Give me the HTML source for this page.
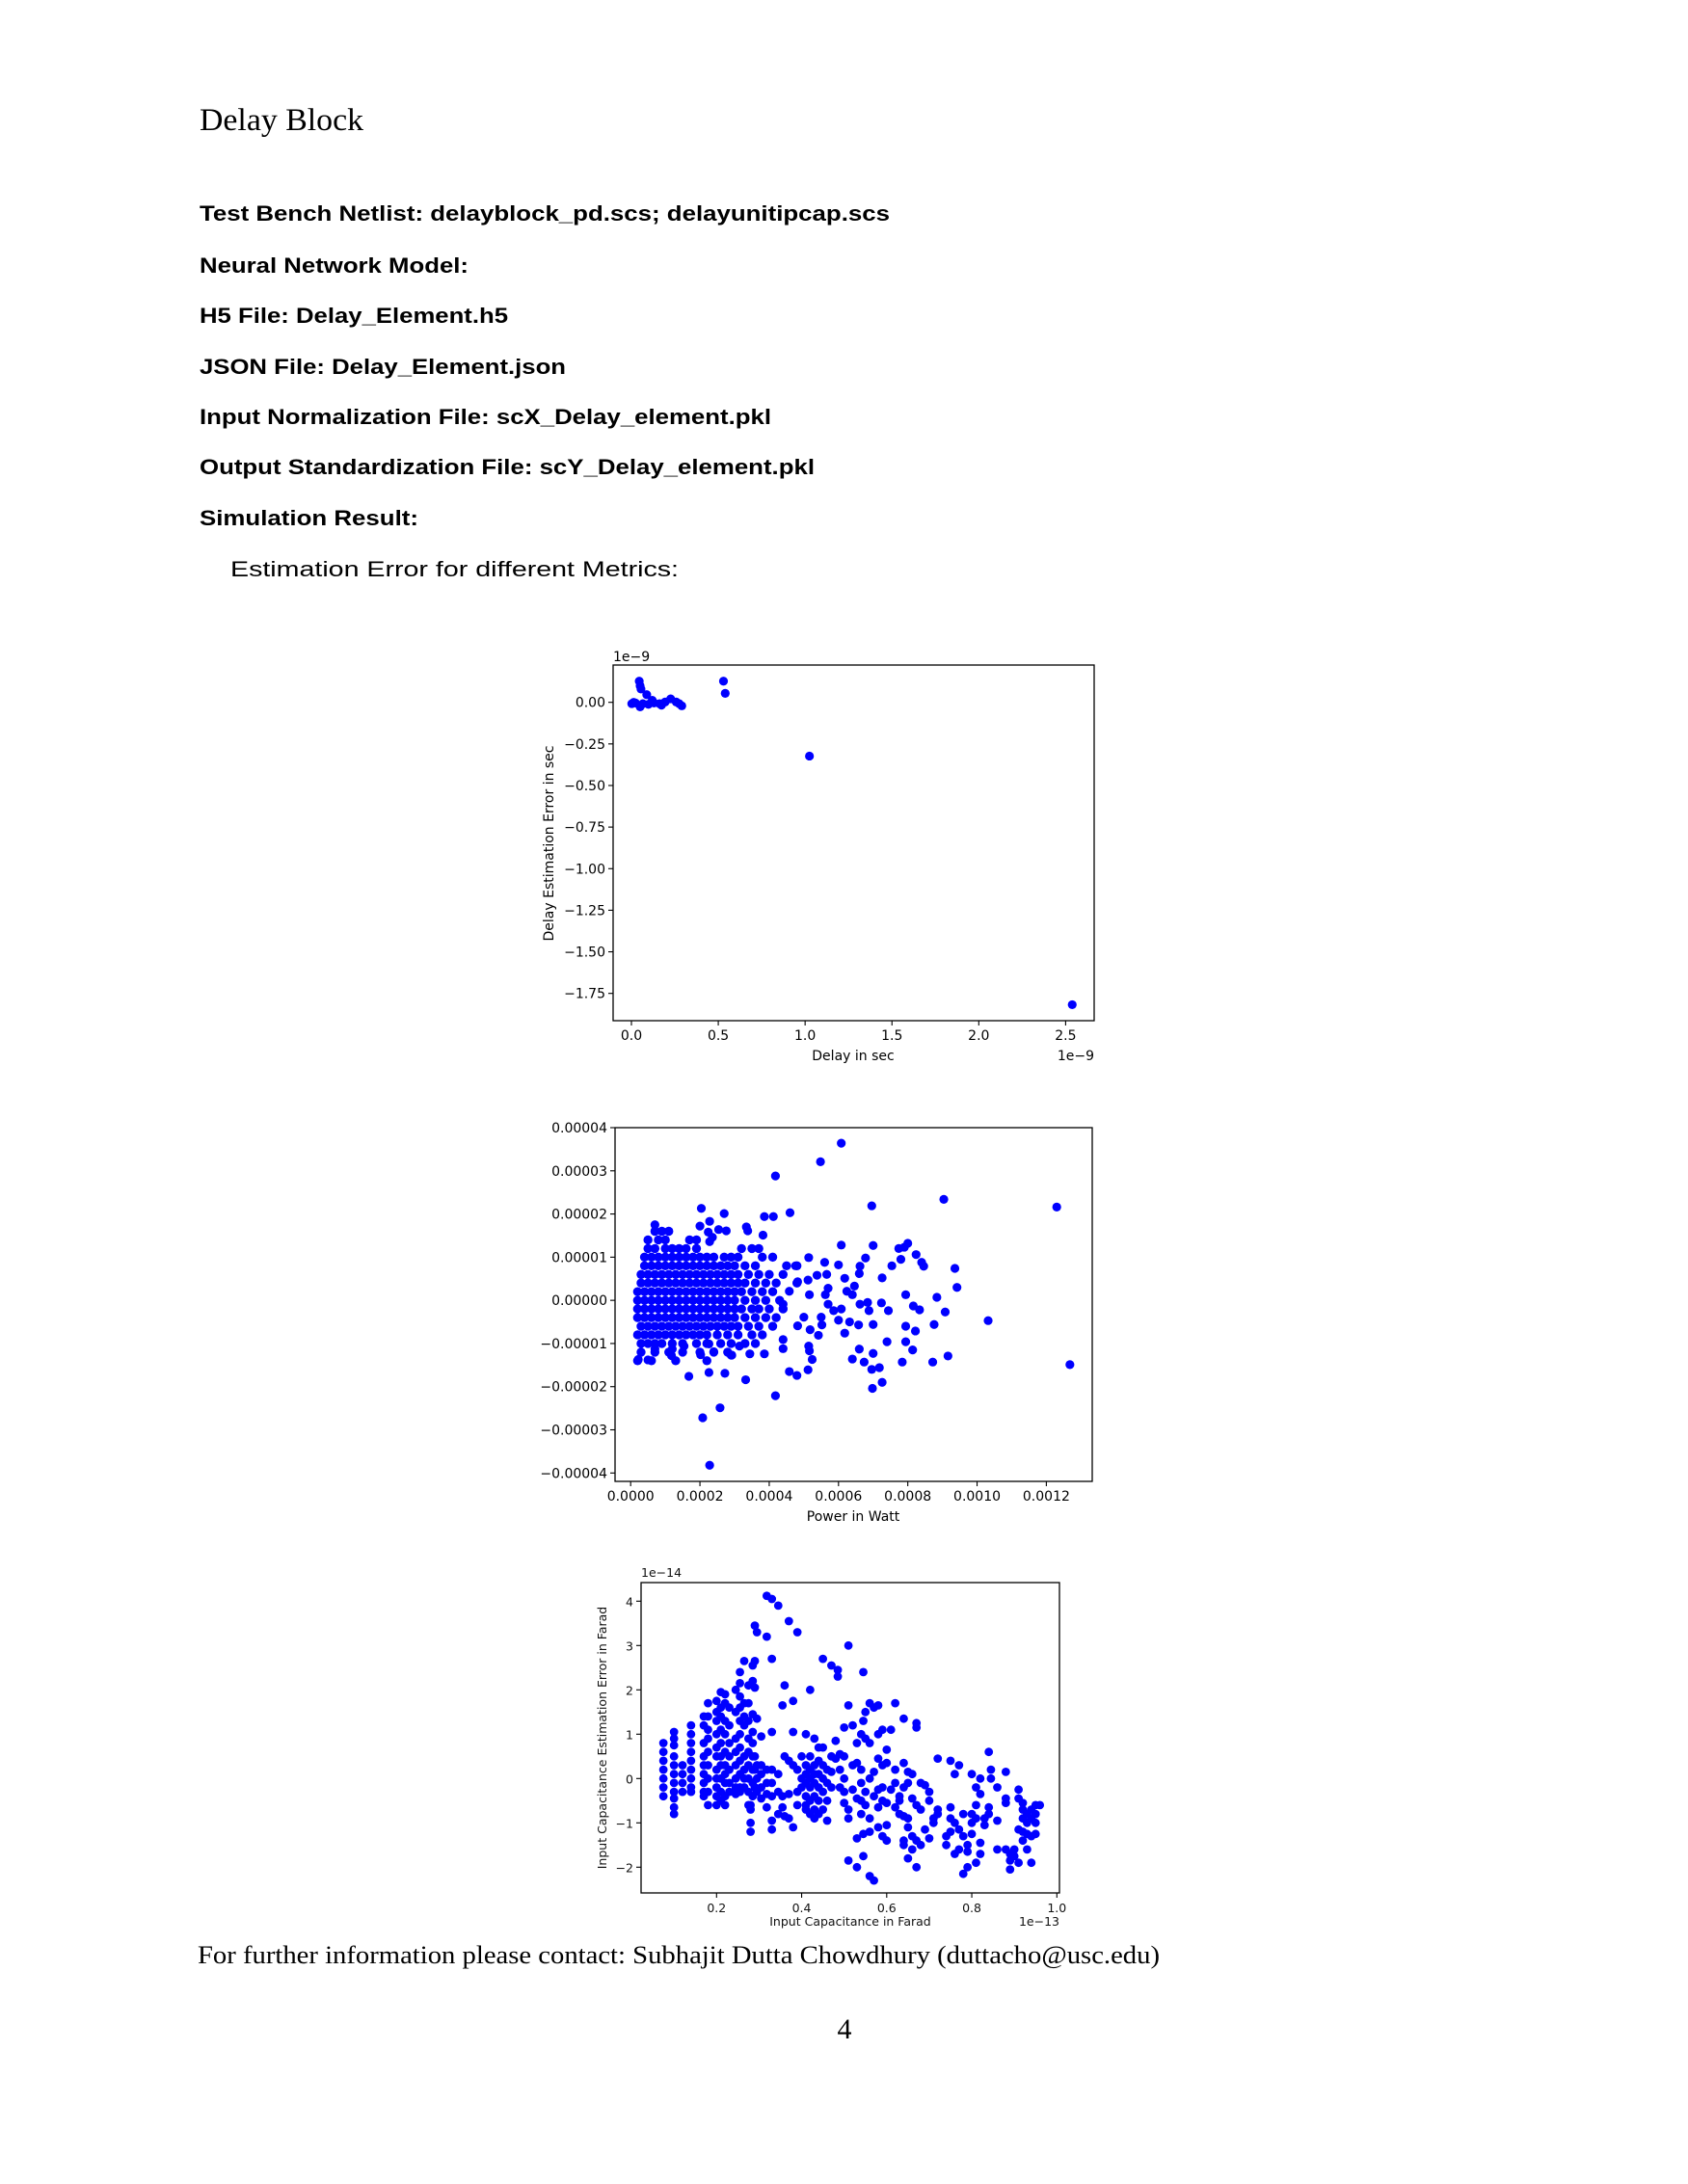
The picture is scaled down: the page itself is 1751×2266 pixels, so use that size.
<!DOCTYPE html>
<html><head><meta charset="utf-8"><style>
html,body{margin:0;padding:0;background:#fff;}
svg{display:block;}
.b{font-family:"Liberation Sans",sans-serif;font-weight:bold;font-size:22px;fill:#000;}
.s{font-family:"Liberation Serif",serif;fill:#000;}
.t{font-family:"DejaVu Sans",sans-serif;font-size:14px;fill:#000;}
.t3{font-family:"DejaVu Sans",sans-serif;font-size:12.5px;fill:#111;}
</style></head><body>
<svg id="pg" width="1751" height="2266" viewBox="0 0 1751 2266" xmlns="http://www.w3.org/2000/svg">
<rect width="1751" height="2266" fill="#fff"/>
<text class="s" x="207" y="135" font-size="33" textLength="170" lengthAdjust="spacingAndGlyphs">Delay Block</text>
<text class="b" x="207" y="229" textLength="716" lengthAdjust="spacingAndGlyphs">Test Bench Netlist: delayblock_pd.scs; delayunitipcap.scs</text>
<text class="b" x="207" y="283" textLength="279" lengthAdjust="spacingAndGlyphs">Neural Network Model:</text>
<text class="b" x="207" y="335" textLength="320" lengthAdjust="spacingAndGlyphs">H5 File: Delay_Element.h5</text>
<text class="b" x="207" y="388" textLength="380" lengthAdjust="spacingAndGlyphs">JSON File: Delay_Element.json</text>
<text class="b" x="207" y="440" textLength="593" lengthAdjust="spacingAndGlyphs">Input Normalization File: scX_Delay_element.pkl</text>
<text class="b" x="207" y="492" textLength="638" lengthAdjust="spacingAndGlyphs">Output Standardization File: scY_Delay_element.pkl</text>
<text class="b" x="207" y="545" textLength="227" lengthAdjust="spacingAndGlyphs">Simulation Result:</text>
<text x="239" y="598" font-family="Liberation Sans, sans-serif" font-size="22" textLength="465" lengthAdjust="spacingAndGlyphs">Estimation Error for different Metrics:</text>
<text class="s" x="205" y="2037" font-size="26" textLength="998" lengthAdjust="spacingAndGlyphs">For further information please contact: Subhajit Dutta Chowdhury (duttacho@usc.edu)</text>
<text class="s" x="876" y="2115" font-size="30" text-anchor="middle">4</text>
<g id="c1"></g>
<g id="c2"></g>
<g id="c3"></g>
</svg>
<script>
// ---- Chart 1 data (units 1e-9 s) ----
const delayX = [0.013,0.045,0.05,0.055,0.088,0.023,0.066,0.098,0.13,0.162,0.194,0.226,0.258,0.29,0.05,0.002,0.12,0.173,0.275,0.53,0.54,1.025,2.538];
const delayErr = [0.0,0.127,0.10,0.08,0.046,-0.004,-0.008,-0.012,-0.004,-0.008,0.002,0.021,0.002,-0.021,-0.027,-0.008,0.012,-0.017,-0.008,0.127,0.054,-0.323,-1.818];
const c1XTicks = [0,0.5,1.0,1.5,2.0,2.5];
const c1XLabels = ["0.0","0.5","1.0","1.5","2.0","2.5"];
const c1YTicks = [0,-0.25,-0.5,-0.75,-1.0,-1.25,-1.5,-1.75];
const c1YLabels = ["0.00","\u22120.25","\u22120.50","\u22120.75","\u22121.00","\u22121.25","\u22121.50","\u22121.75"];

// ---- Chart 2 data (power 1e-4 W, error 1e-5) ----
const blobErr = [1.6,1.4,1.2,1.0,0.8,0.6,0.4,0.2,0.0,-0.2,-0.4,-0.6,-0.8,-1.0,-1.2,-1.4];
const blobPower = [
 [0.7,0.9,1.1],
 [0.5,0.8,1.0,1.7,1.9],
 [0.5,0.7,1.0,1.2,1.4,1.6,1.9,3.2,3.5,3.7],
 [0.4,0.6,0.8,1.0,1.2,1.4,1.6,1.8,2.0,2.2,2.4,2.7,2.9,3.1,3.8,4.1],
 [0.4,0.6,0.8,1.0,1.2,1.4,1.6,1.8,2.0,2.2,2.4,2.6,2.8,3.0,3.3,3.6,4.5,4.8],
 [0.3,0.5,0.7,0.9,1.1,1.3,1.5,1.7,1.9,2.1,2.3,2.5,2.7,2.9,3.1,3.4,3.7,4.0,4.4],
 [0.3,0.5,0.7,0.9,1.1,1.3,1.5,1.7,1.9,2.1,2.3,2.5,2.7,2.9,3.1,3.3,3.6,3.9,4.2,4.8],
 [0.2,0.4,0.6,0.8,1.0,1.2,1.4,1.6,1.8,2.0,2.2,2.4,2.6,2.8,3.0,3.2,3.5,3.8,4.1],
 [0.2,0.4,0.6,0.8,1.0,1.2,1.4,1.6,1.8,2.0,2.2,2.4,2.6,2.8,3.0,3.3,3.6,3.9,4.3],
 [0.2,0.4,0.6,0.8,1.0,1.2,1.4,1.6,1.8,2.0,2.2,2.4,2.6,2.8,3.0,3.2,3.5,3.7,4.0,4.4],
 [0.2,0.4,0.6,0.8,1.0,1.2,1.4,1.6,1.8,2.0,2.2,2.4,2.6,2.8,3.0,3.3,3.6,3.9,4.2],
 [0.3,0.5,0.7,0.9,1.1,1.3,1.5,1.7,1.9,2.1,2.3,2.5,2.7,2.9,3.1,3.4,3.7,4.1],
 [0.2,0.4,0.6,0.8,1.0,1.2,1.4,1.6,1.8,2.0,2.2,2.5,2.8,3.1,3.5,3.8],
 [0.3,0.5,0.7,0.9,1.2,1.5,1.9,2.2,2.6,2.9,3.3,3.6],
 [0.3,0.7,1.1,1.5,2.0,2.4,2.8],
 [0.2,0.6,1.3,2.2]
];
const outPower = [4.18,5.48,6.08,2.04,2.70,4.60,3.86,4.12,6.96,9.04,12.30,12.68,10.32,9.42,9.36,8.84,9.08,8.76,9.16,8.72,8.46,8.40,8.24,8.00,7.90,7.74,7.80,7.54,7.94,8.16,8.34,7.94,8.22,7.94,8.14,7.84,
 7.26,7.24,7.44,7.40,7.26,7.18,6.98,6.96,7.00,7.00,6.88,6.84,6.78,7.00,6.62,6.60,6.46,6.40,6.62,6.58,6.60,6.74,6.40,
 6.00,6.08,6.18,6.24,6.08,6.00,6.18,6.32,5.60,5.66,5.70,5.70,5.86,5.62,5.38,5.50,
 5.14,5.12,5.16,5.00,5.18,5.42,5.52,5.14,5.16,5.24,5.12,4.82,4.80,4.58,4.40,4.40,4.18,4.76,4.82,4.58,4.40,
 3.82,3.38,3.34,3.32,2.58,2.08,2.28,1.68,2.26,2.72,2.90,2.40,2.26,2.02,2.00,2.28,2.24,2.54,2.76,2.36,2.28,
 3.86,3.44,3.14,2.92,0.50,0.22,0.70,1.18,1.20,1.54,0.70];
const outErr = [2.88,3.21,3.64,2.13,2.01,2.03,1.94,1.94,2.19,2.34,2.16,-1.49,-0.47,0.30,0.74,0.07,-0.27,-0.56,-1.29,-1.43,0.79,0.88,1.06,1.32,1.23,1.20,0.95,0.80,0.13,-0.13,-0.22,-0.60,-0.71,-0.96,-1.15,-1.43,
 0.52,-0.06,-0.24,-0.96,-1.90,-1.56,-2.04,-1.60,-1.23,-0.56,-0.24,-0.05,0.98,1.27,0.79,0.62,0.33,0.13,-0.09,-0.57,-1.13,-1.43,-1.36,
 0.82,1.28,0.51,0.21,-0.20,-0.46,-0.76,-0.50,0.88,0.60,0.28,-0.09,-0.24,0.13,0.58,-0.39,
 0.99,0.47,0.13,-0.39,-0.68,-0.81,-0.57,-1.06,-1.17,-1.37,-1.61,-0.59,-1.74,-1.65,-0.91,-1.12,-2.21,0.80,0.43,0.21,-0.09,
 1.51,1.61,1.70,-1.84,-2.49,-2.72,-3.82,-1.76,-1.67,-1.69,-1.27,-1.19,-1.01,-1.26,1.72,1.83,1.58,1.64,1.61,1.46,1.36,
 -1.24,-1.24,-1.06,-1.27,-1.38,-1.37,-1.13,-1.28,-1.13,-1.06,1.75];
const c2XTicks = [0,2,4,6,8,10,12];
const c2XLabels = ["0.0000","0.0002","0.0004","0.0006","0.0008","0.0010","0.0012"];
const c2YTicks = [4,3,2,1,0,-1,-2,-3,-4];
const c2YLabels = ["0.00004","0.00003","0.00002","0.00001","0.00000","\u22120.00001","\u22120.00002","\u22120.00003","\u22120.00004"];

// ---- Chart 3 data (cap 1e-13 F, error 1e-14 F) ----
const capX = [0.075,0.1,0.12,0.14,0.17,0.18,0.2,0.21,0.22,0.23,0.245,0.255,0.265,0.275,0.28,0.285,0.29,0.295,0.305,0.318,0.33,0.345,0.355,0.36,0.37,0.38,0.39,0.4,0.41,0.42,0.43,0.44,0.45,0.46,0.47,0.48,0.485,0.49,0.5,0.51,0.52,0.53,0.54,0.545,0.55,0.56,0.57,0.58,0.59,0.6,0.61,0.62,0.63,0.64,0.65,0.66,0.67,0.68,0.69,0.7,0.71,0.72,0.74,0.75,0.76,0.77,0.78,0.79,0.8,0.81,0.82,0.83,0.84,0.845,0.86,0.88,0.89,0.9,0.91,0.92,0.93,0.94,0.95,0.96];
const capErr = [
 [0.8,0.6,0.4,0.2,0,-0.2,-0.4],
 [1.05,0.9,0.75,0.5,0.3,0.1,-0.1,-0.3,-0.45,-0.65,-0.8],
 [0.3,0.1,-0.1,-0.3],
 [1.2,1.0,0.8,0.6,0.4,0.2,0,-0.2,-0.3],
 [1.4,1.2,0.8,0.5,0.3,0.1,-0.1,-0.3,-0.4],
 [1.7,1.4,1.1,0.9,0.6,0.3,0,-0.3,-0.6],
 [1.75,1.5,1.3,1.0,0.7,0.5,0.2,0,-0.2,-0.4,-0.6],
 [1.95,1.6,1.4,1.1,0.8,0.5,0.3,0,-0.3,-0.5],
 [1.9,1.7,1.3,1.0,0.6,0.3,0.1,-0.1,-0.4,-0.6],
 [1.6,1.2,0.8,0.5,0.2,-0.1,-0.3],
 [2.0,1.5,0.9,0.6,0.3,0,-0.2,-0.35],
 [2.4,2.15,1.85,1.6,1.3,1.0,0.7,0.4,0.1,-0.2,-0.3],
 [2.65,1.7,1.4,1.2,0.5,0.2,0,-0.2],
 [2.1,1.7,1.3,0.9,0.6,0.3,0,-0.3,-0.6],
 [-1.0,-1.2,-0.6,-0.7],
 [2.55,2.2,1.45,1.05,0.8,0.5,0.2,-0.1,-0.4],
 [3.45,2.65,2.05,0.5,0.2,-0.2],
 [3.3,1.35,0.3,0,-0.3],
 [0.95,0.3,0.1,-0.2,-0.45],
 [3.2,4.12,0.2,-0.1,-0.35,-0.65],
 [4.05,2.7,1.05,0.2,-0.1,-0.4,-0.95,-1.15],
 [3.9,0.1,-0.3,-0.8],
 [1.65,-0.4,-0.65],
 [2.1,0.5,-0.85],
 [3.55,0.4,-0.35,-0.9],
 [1.75,1.05,-1.1,0.3],
 [3.3,0.2,-0.3,-0.6],
 [0.5,0,-0.2],
 [1.0,0.3,0.1,-0.1,-0.4,-0.6,-0.7],
 [2.0,0.5,0.2,0,-0.2,-0.5,-0.8],
 [0.9,0.3,0.1,-0.1,-0.4,-0.7,-0.9],
 [0.7,0.4,0.1,-0.2,-0.5,-0.8],
 [2.7,0.7,0.3,0,-0.3,-0.7],
 [0.2,-0.1,-0.5,-0.95],
 [2.55,0.5,0.15,-0.2],
 [0.85,0.45],
 [2.45,2.3],
 [0.55,0.2,-0.2],
 [1.15,0.5,0,-0.3,-0.55],
 [3.0,1.65,-0.7,-0.9,-1.85],
 [1.2,0.3,-0.25],
 [0.8,0.35,-0.45,-1.35,-2.0],
 [1.0,0.2,-0.1,-0.5,-0.8],
 [2.4,1.3,-1.25,-1.75],
 [1.5,0.9,-0.3,-0.6],
 [1.7,0.8,0,-0.9,-1.2,-2.2],
 [1.6,0.15,-0.4,-2.3],
 [1.65,1.0,0.45,-0.25,-0.65,-1.1],
 [1.1,0.3,-0.2,-0.5,-1.3],
 [0.65,0.35,-0.55,-1.05,-1.4],
 [1.1,-0.25],
 [1.7,0.2,-0.1,-0.65],
 [-0.4,-0.5,-0.8],
 [1.35,0.35,-0.2,-0.85,-1.4,-1.5],
 [0.15,-0.1,-0.9,-1.1,-1.8],
 [0.1,-0.45,-1.3,-1.6],
 [1.25,1.15,-0.6,-1.4,-2.0],
 [-0.1,-0.7,-1.5],
 [-0.15,-1.15],
 [-0.3,-0.5,-1.35],
 [-0.9,-1.0],
 [0.45,-0.7,-0.8],
 [-1.5,-1.3],
 [0.4,-0.65,-0.9,-1.2],
 [0.1,-1.0,-1.7],
 [0.3,-1.15,-1.6],
 [-0.8,-1.3,-2.15],
 [-1.5,-1.65,-2.0],
 [0.1,-0.8,-1.0,-1.25],
 [-0.2,-0.6,-0.9,-1.9],
 [0,-0.35,-1.45,-1.7],
 [-0.9,-1.05],
 [0.6,-0.65,-0.8],
 [0.2,0],
 [-0.2,-0.95,-1.6],
 [0.15,-0.45,-0.55,-1.6],
 [-1.7,-1.85,-2.05],
 [-1.6,-1.75],
 [-0.25,-0.45,-1.15,-1.9],
 [-0.55,-0.7,-0.9,-1.2,-1.4],
 [-0.8,-1.0,-1.25,-1.6],
 [-0.7,-0.9,-1.3,-1.9],
 [-0.6,-0.8,-1.0,-1.25],
 [-0.6]
];
const c3XTicks = [0.2,0.4,0.6,0.8,1.0];
const c3XLabels = ["0.2","0.4","0.6","0.8","1.0"];
const c3YTicks = [4,3,2,1,0,-1,-2];
const c3YLabels = ["4","3","2","1","0","\u22121","\u22122"];

const NS = "http://www.w3.org/2000/svg";
function mk(parent, tag, attrs, txt) {
  const e = document.createElementNS(NS, tag);
  for (const k in attrs) e.setAttribute(k, attrs[k]);
  if (txt !== undefined) e.textContent = txt;
  parent.appendChild(e);
  return e;
}
function lin(d0, d1, r0, r1) { return v => r0 + (v - d0) * (r1 - r0) / (d1 - d0); }

function axes(g, box, sx, sy, xt, xl, yt, yl, cls) {
  const fr = mk(g, "rect", {x: box.l, y: box.t, width: box.r - box.l, height: box.b - box.t, fill: "none", stroke: "#000", "stroke-width": 1.3});
  
  
  xt.forEach((v, i) => {
    const x = sx(v);
    const tk = mk(g, "line", {x1: x, x2: x, y1: box.b, y2: box.b + 5, stroke: "#000", "stroke-width": 1.1});
    
    
    const tl = mk(g, "text", {x: x, y: box.b + 20, "text-anchor": "middle", class: cls}, xl[i]);
    
    
  });
  yt.forEach((v, i) => {
    const y = sy(v);
    const tk = mk(g, "line", {x1: box.l - 5, x2: box.l, y1: y, y2: y, stroke: "#000", "stroke-width": 1.1});
    
    
    const tl = mk(g, "text", {x: box.l - 8, y: y + 5, "text-anchor": "end", class: cls}, yl[i]);
    
    
  });
}
function dot(g, x, y, r) {
  const c = mk(g, "circle", {cx: x, cy: y, r: r, fill: "#0000ff"});
  
  
}

// Chart 1
(function () {
  const g = document.getElementById("c1");
  const box = {l: 636, r: 1135, t: 690, b: 1059};
  const sx = lin(0, 2.5, 655, 1105.4);
  const sy = lin(0, -1.75, 728.7, 1030.7);
  axes(g, box, sx, sy, c1XTicks, c1XLabels, c1YTicks, c1YLabels, "t");
  delayX.forEach((v, i) => dot(g, sx(v), sy(delayErr[i]), 4.6));
  const a = mk(g, "text", {x: 636, y: 686, class: "t"}, "1e\u22129");
  
  
  const b = mk(g, "text", {x: 1135, y: 1100, "text-anchor": "end", class: "t"}, "1e\u22129");
  
  
  const xl = mk(g, "text", {x: 885, y: 1100, "text-anchor": "middle", class: "t"}, "Delay in sec");
  
  
  const yl = mk(g, "text", {x: 574, y: 875, "text-anchor": "middle", class: "t", transform: "rotate(-90 574 875)"}, "Delay Estimation Error in sec");
  
  
})();

// Chart 2
(function () {
  const g = document.getElementById("c2");
  const box = {l: 638, r: 1133, t: 1170, b: 1537};
  const sx = lin(0, 12, 654.2, 1085.4);
  const sy = lin(4, -4, 1170, 1528.3);
  axes(g, box, sx, sy, c2XTicks, c2XLabels, c2YTicks, c2YLabels, "t");
  blobErr.forEach((yv, i) => blobPower[i].forEach(xv => dot(g, sx(xv), sy(yv), 4.7)));
  outPower.forEach((v, i) => dot(g, sx(v), sy(outErr[i]), 4.6));
  const xl = mk(g, "text", {x: 885, y: 1578, "text-anchor": "middle", class: "t"}, "Power in Watt");
  
  
})();

// Chart 3
(function () {
  const g = document.getElementById("c3");
  const box = {l: 665, r: 1099, t: 1642, b: 1964};
  const sx = lin(0.2, 1.0, 743.3, 1096.3);
  const sy = lin(4, -2, 1661.3, 1937.3);
  axes(g, box, sx, sy, c3XTicks, c3XLabels, c3YTicks, c3YLabels, "t3");
  capX.forEach((xv, i) => capErr[i].forEach(yv => dot(g, sx(xv), sy(yv), 4.4)));
  const a = mk(g, "text", {x: 665, y: 1636, class: "t3"}, "1e\u221214");
  
  
  const b = mk(g, "text", {x: 1099, y: 1998, "text-anchor": "end", class: "t3"}, "1e\u221213");
  
  
  const xl = mk(g, "text", {x: 882, y: 1998, "text-anchor": "middle", class: "t3"}, "Input Capacitance in Farad");
  
  
  const yl = mk(g, "text", {x: 629, y: 1803, "text-anchor": "middle", class: "t3", transform: "rotate(-90 629 1803)"}, "Input Capacitance Estimation Error in Farad");
  
  
})();
</script>
</body></html>
